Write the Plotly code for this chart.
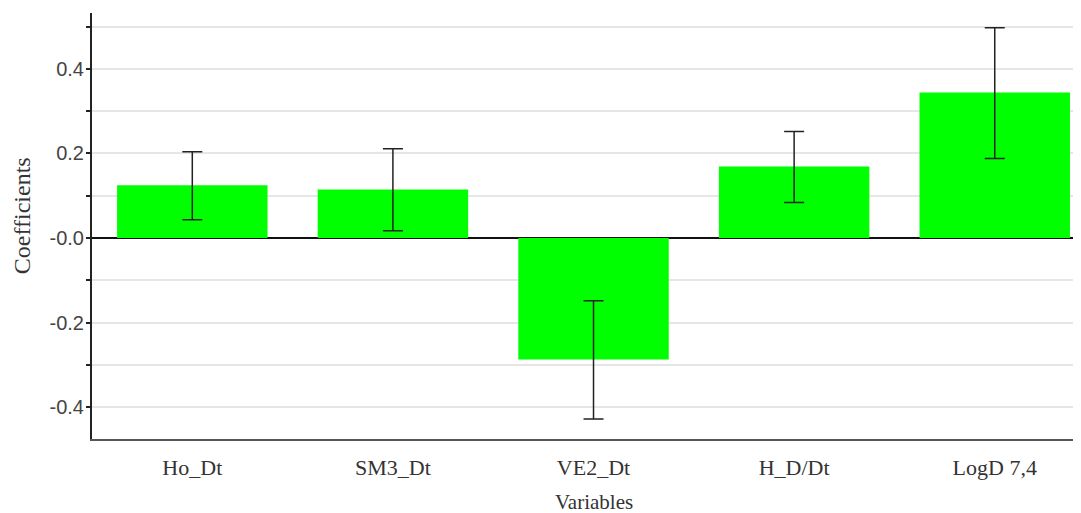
import plotly.graph_objects as go

categories = ["Ho_Dt", "SM3_Dt", "VE2_Dt", "H_D/Dt", "LogD 7,4"]
coefficients = [0.125, 0.115, -0.287, 0.169, 0.344]
err_plus = [0.079, 0.096, 0.139, 0.083, 0.153]
err_minus = [0.082, 0.098, 0.141, 0.085, 0.156]

y_ticks = [-0.4, -0.3, -0.2, -0.1, 0.0, 0.1, 0.2, 0.3, 0.4, 0.5]
y_labels = ["-0.4", "", "-0.2", "", "-0.0", "", "0.2", "", "0.4", ""]

y_range = [-0.475, 0.532]
x_range = [-0.5, 4.43]
zero_pos = (0 - y_range[0]) / (y_range[1] - y_range[0])

fig = go.Figure()
fig.add_trace(go.Bar(
    x=list(range(len(categories))), y=coefficients, width=0.75,
    marker=dict(color="#00ff00", line=dict(width=0)),
    error_y=dict(type="data", symmetric=False, array=err_plus, arrayminus=err_minus,
                 color="#222222", thickness=1.5, width=10),
    showlegend=False,
))

serif = "Liberation Serif"
fig.update_layout(
    width=1073, height=505,
    margin=dict(l=84, r=0, t=5, b=74),
    paper_bgcolor="white", plot_bgcolor="white",
    xaxis=dict(
        range=x_range, tickmode="array", tickvals=list(range(len(categories))), ticktext=categories,
        showline=True, linecolor="#555555", linewidth=2, ticks="", showgrid=False, zeroline=False,
        tickfont=dict(family=serif, size=22, color="#333333"), ticklabelstandoff=8, automargin=False,
    ),
    xaxis2=dict(
        overlaying="x", anchor="free", position=zero_pos, range=x_range, tickmode="array",
        tickvals=list(range(len(categories))), showticklabels=False, ticks="outside", ticklen=5,
        tickcolor="#333333", tickwidth=1.5, showline=False, showgrid=False, zeroline=False, layer="below traces",
    ),
    xaxis3=dict(
        overlaying="x", anchor="free", position=zero_pos, range=x_range, tickmode="array",
        tickvals=list(range(len(categories))), showticklabels=False, ticks="inside", ticklen=4,
        tickcolor="#333333", tickwidth=1.5, showline=False, showgrid=False, zeroline=False, layer="below traces",
    ),
    yaxis=dict(
        range=y_range, tickmode="array", tickvals=y_ticks, ticktext=y_labels,
        ticks="outside", ticklen=4, tickwidth=1.5, tickcolor="#222222",
        showline=True, linecolor="#222222", linewidth=2, automargin=False,
        showgrid=True, gridcolor="#e6e6e6", gridwidth=1.5,
        zeroline=True, zerolinecolor="#111111", zerolinewidth=1.5,
        tickfont=dict(family="Liberation Sans", size=20, color="#444444"), ticklabelstandoff=-2,
    ),
    yaxis2=dict(
        overlaying="y", anchor="x", side="left", range=y_range, tickmode="array", tickvals=y_ticks,
        showticklabels=False, ticks="inside", ticklen=3, tickwidth=1.5, tickcolor="#222222",
        showline=False, showgrid=False, zeroline=False,
    ),
    annotations=[
        dict(
            text="Coefficients", textangle=-90, showarrow=False,
            xref="paper", yref="paper", x=0, y=0.523, xanchor="center", yanchor="middle", xshift=-70,
            font=dict(family=serif, size=24, color="#333333"),
        ),
        dict(
            text="Variables", showarrow=False,
            xref="x", yref="paper", x=(len(categories) - 1) / 2, y=0, xanchor="center", yanchor="middle",
            yshift=-63, font=dict(family=serif, size=21, color="#333333"),
        ),
    ],
    bargap=0.25,
)

fig.write_html("out.html")
